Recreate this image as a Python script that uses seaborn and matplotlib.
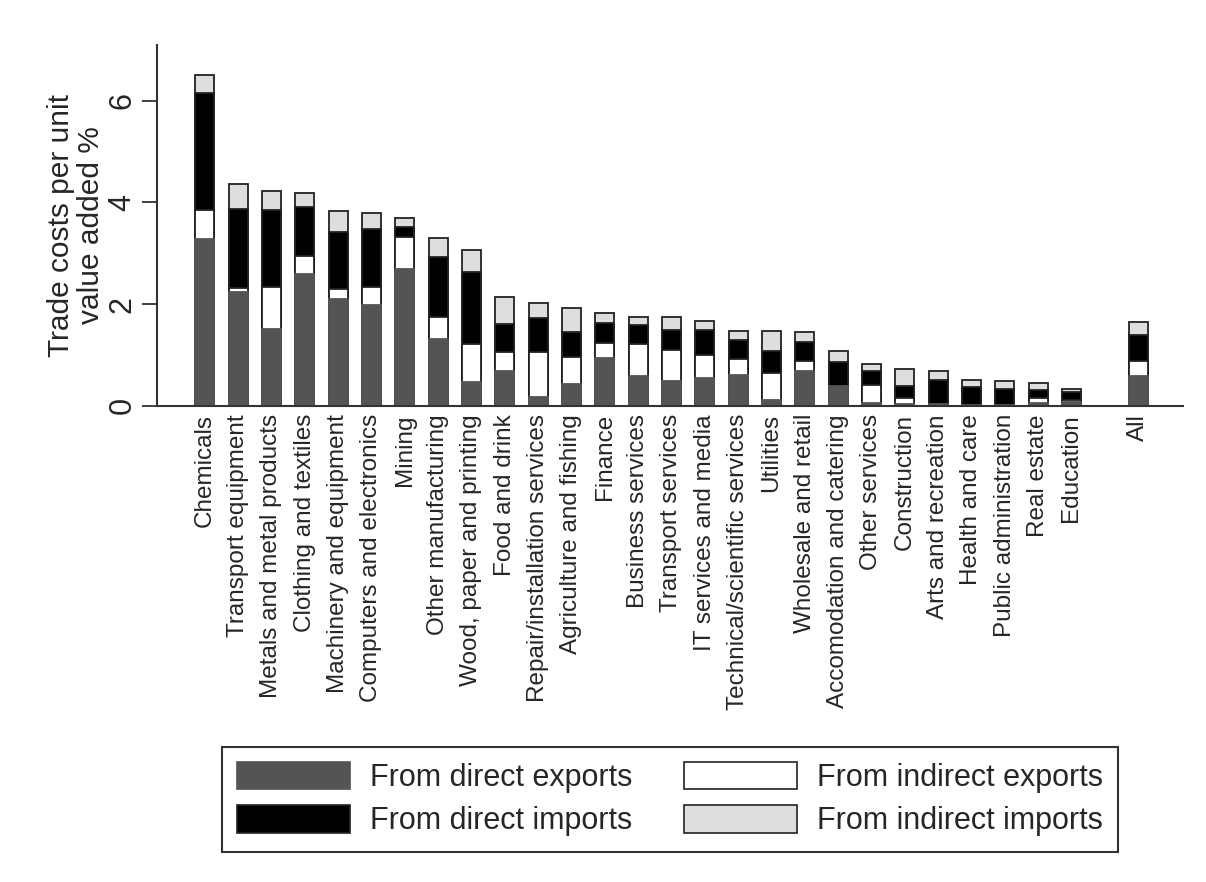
import numpy as np
import pandas as pd
import seaborn as sns
from matplotlib import pyplot as plt
from matplotlib.patches import Patch

# sectors, sorted by total
sectors = ["Chemicals", "Transport equipment", "Metals and metal products",
           "Clothing and textiles", "Machinery and equipment",
           "Computers and electronics", "Mining", "Other manufacturing",
           "Wood, paper and printing", "Food and drink",
           "Repair/installation services", "Agriculture and fishing",
           "Finance", "Business services", "Transport services",
           "IT services and media", "Technical/scientific services",
           "Utilities", "Wholesale and retail", "Accomodation and catering",
           "Other services", "Construction", "Arts and recreation",
           "Health and care", "Public administration", "Real estate",
           "Education", "All"]

direct_exports = [3.29, 2.23, 1.51, 2.60, 2.11, 1.99, 2.70, 1.31, 0.47, 0.69,
                  0.18, 0.43, 0.94, 0.59, 0.49, 0.54, 0.60, 0.12, 0.69, 0.38,
                  0.05, 0.03, 0.03, 0.02, 0.02, 0.05, 0.08, 0.59]
indirect_exports = [0.57, 0.09, 0.83, 0.35, 0.18, 0.35, 0.62, 0.43, 0.75, 0.36,
                    0.87, 0.52, 0.30, 0.62, 0.60, 0.45, 0.31, 0.52, 0.19, 0.00,
                    0.36, 0.13, 0.00, 0.00, 0.00, 0.11, 0.03, 0.30]
direct_imports = [2.29, 1.56, 1.52, 0.97, 1.13, 1.13, 0.20, 1.19, 1.41, 0.56,
                  0.67, 0.51, 0.39, 0.38, 0.41, 0.51, 0.39, 0.44, 0.37, 0.48,
                  0.28, 0.23, 0.48, 0.35, 0.31, 0.14, 0.16, 0.51]
indirect_imports = [0.36, 0.48, 0.37, 0.26, 0.42, 0.33, 0.18, 0.38, 0.43, 0.52,
                    0.30, 0.47, 0.20, 0.16, 0.24, 0.16, 0.18, 0.39, 0.20, 0.21,
                    0.13, 0.34, 0.18, 0.13, 0.16, 0.15, 0.06, 0.24]

labels = ["From direct exports", "From indirect exports",
          "From direct imports", "From indirect imports"]
colors = ["#545454", "#ffffff", "#000000", "#dedede"]

df = pd.DataFrame({"sector": sectors, "de": direct_exports,
                   "ie": indirect_exports, "di": direct_imports,
                   "ii": indirect_imports})
# cumulative heights for stacking
df["c1"] = df["de"]
df["c2"] = df["c1"] + df["ie"]
df["c3"] = df["c2"] + df["di"]
df["c4"] = df["c3"] + df["ii"]

# blank slot before "All"
order = sectors[:-1] + [" "] + ["All"]

sns.set_theme(style="white")
plt.rcParams["font.family"] = ["Liberation Sans", "DejaVu Sans"]

fig = plt.figure(figsize=(12.06, 8.82), dpi=100)
ax = fig.add_axes([0.130, 0.540, 0.851, 0.409])

# draw tallest first, then overlay lower parts
for col, c in zip(["c4", "c3", "c2", "c1"], colors[::-1]):
    ec = "#545454" if col == "c1" else "#222222"
    sns.barplot(data=df, x="sector", y=col, order=order, color=c,
                saturation=1, width=0.57, edgecolor=ec, linewidth=1.3,
                ax=ax, errorbar=None)

ax.set_xlim(-1.44, 29.35)
ax.set_ylim(0, 7.1)
ax.set_yticks([0, 2, 4, 6])
ax.set_yticklabels(["0", "2", "4", "6"], rotation=90, va="center",
                   fontsize=22)
ax.set_xlabel("")
ax.set_ylabel("Trade costs per unit\nvalue added %", fontsize=21.5,
              labelpad=2, linespacing=1.05)
ax.set_xticks(range(len(order)))
ax.set_xticklabels(order, rotation=90, ha="center", va="top", fontsize=17.5)
ax.tick_params(axis="x", length=0, pad=6)
ax.tick_params(axis="y", length=11, width=1.3, color="#333333", pad=3,
               left=True)

for s in ["top", "right"]:
    ax.spines[s].set_visible(False)
for s in ["left", "bottom"]:
    ax.spines[s].set_color("#333333")
    ax.spines[s].set_linewidth(1.5)

handles = [Patch(facecolor=c, edgecolor="#545454" if c == "#545454" else "#222222",
                 linewidth=1.2) for c in colors]
# matplotlib fills legend column-wise, reorder so rows read exports / imports
idx = [0, 2, 1, 3]
leg = fig.legend([handles[i] for i in idx], [labels[i] for i in idx],
                 loc="center", bbox_to_anchor=(0.5556, 0.094),
                 ncol=2, fontsize=22, frameon=True, fancybox=False,
                 handlelength=3.7, handleheight=1.0, handletextpad=0.65,
                 columnspacing=1.7, labelspacing=0.4, borderpad=0.5)
leg.get_frame().set_edgecolor("black")
leg.get_frame().set_linewidth(1.5)

fig.savefig("out.png", dpi=100)
